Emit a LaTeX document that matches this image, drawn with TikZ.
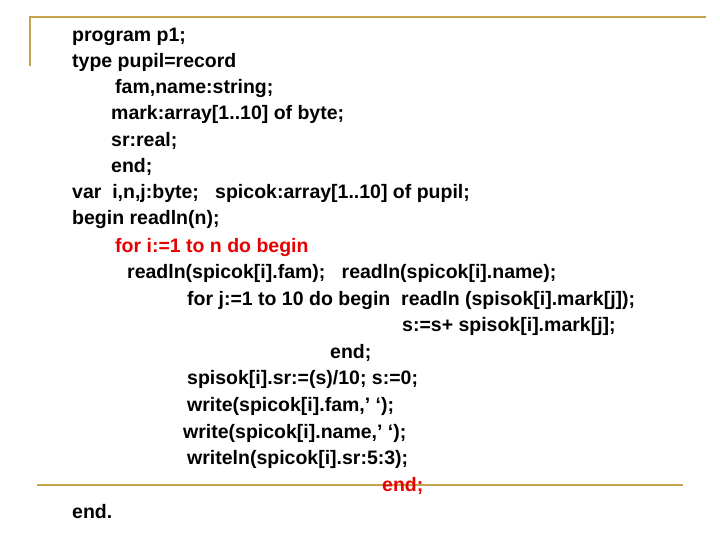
\documentclass[tikz,border=0pt]{standalone}
\usepackage{fontspec}
\setmainfont{Liberation Sans}
\definecolor{gold}{RGB}{196,164,74}
\definecolor{codered}{RGB}{230,0,0}
\begin{document}
\begin{tikzpicture}[x=1pt,y=-1pt,
  code/.style={anchor=base west,inner sep=0pt,font=\fontsize{19.5}{20}\selectfont\bfseries},
  rule/.style={draw=gold,line width=2.2pt}]
\useasboundingbox (0,0) rectangle (720,540);
\coordinate (tl) at (30,17); \coordinate (tr) at (706,17); \coordinate (lb) at (30,66);
\draw[rule] (lb) -- (tl) -- (tr);
\coordinate (bl) at (37,485); \coordinate (br) at (683,485);
\draw[rule] (bl) -- (br);
\node[code] (l1) at (72,42) {program p1;};
\node[code] (l2) at (72,68) {type pupil=record};
\node[code] (l3) at (115,94) {fam,name:string;};
\node[code] (l4) at (111,120) {mark:array[1..10] of byte;};
\node[code] (l5) at (111,147) {sr:real;};
\node[code] (l6) at (111,173) {end;};
\node[code] (l7) at (72,199) {var\ \ i,n,j:byte;\ \ \ spicok:array[1..10] of pupil;};
\node[code] (l8) at (72,225) {begin readln(n);};
\node[code,text=codered] (l9) at (115,252) {for i:=1 to n do begin};
\node[code] (l10) at (127,278) {readln(spicok[i].fam);\ \ \ readln(spicok[i].name);};
\node[code] (l11) at (187,305) {for j:=1 to 10 do begin\ \ readln (spisok[i].mark[j]);};
\node[code] (l12) at (402,331) {s:=s+ spisok[i].mark[j];};
\node[code] (l13) at (330,358) {end;};
\node[code] (l14) at (187,384) {spisok[i].sr:=(s)/10; s:=0;};
\node[code] (l15) at (187,411) {write(spicok[i].fam,’ ‘);};
\node[code] (l16) at (183,438) {write(spicok[i].name,’ ‘);};
\node[code] (l17) at (187,464) {writeln(spicok[i].sr:5:3);};
\node[code,text=codered] (l18) at (382,491) {end;};
\node[code] (l19) at (72,518) {end.};
\end{tikzpicture}
\end{document}
